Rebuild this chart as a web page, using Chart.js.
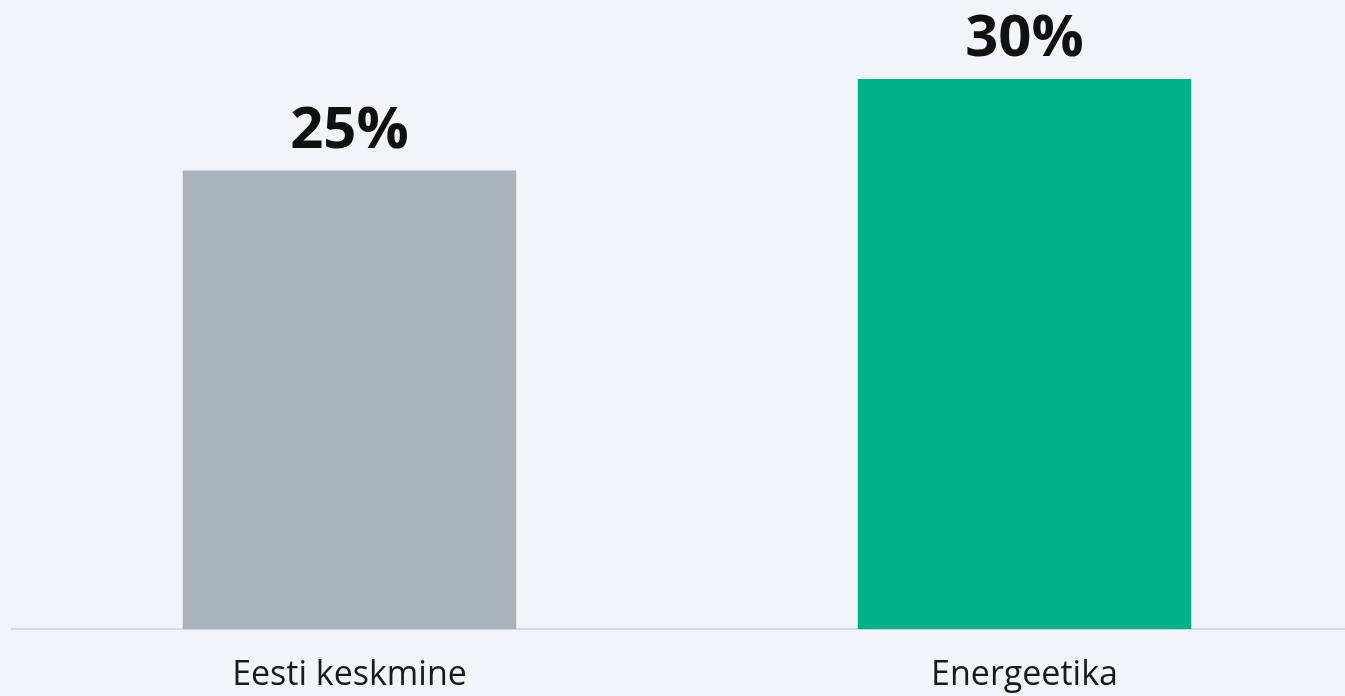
<!DOCTYPE html>
<html lang="et">
<head>
    <meta charset="UTF-8">
    <title>Eesti keskmine vs Energeetika</title>
    <style>
        html, body {
            margin: 0;
            padding: 0;
            background-color: #f1f4f8;
            overflow: hidden;
        }
        .chart-container {
            width: 1362px;
            height: 717px;
        }
    </style>
</head>
<body>
    <div class="chart-container">
        <canvas id="barChart"></canvas>
    </div>

    <script src="https://cdn.jsdelivr.net/npm/chart.js"></script>
    <script>
        // Chart data
        const categories = ['Eesti keskmine', 'Energeetika'];
        const values = [25, 30];
        const valueLabels = ['25%', '30%'];
        const barColors = ['#a9b1bb', '#00b089'];

        // Draw the bold percentage above each bar
        const valueLabelPlugin = {
            id: 'valueLabels',
            afterDatasetsDraw(chart) {
                const ctx = chart.ctx;
                const meta = chart.getDatasetMeta(0);
                ctx.save();
                ctx.font = 'bold 58px "Open Sans", sans-serif';
                ctx.fillStyle = '#111111';
                ctx.textAlign = 'center';
                ctx.textBaseline = 'alphabetic';
                meta.data.forEach((bar, i) => {
                    ctx.fillText(valueLabels[i], bar.x, bar.y - 23);
                });
                ctx.restore();
            }
        };

        const ctx = document.getElementById('barChart').getContext('2d');
        new Chart(ctx, {
            type: 'bar',
            data: {
                labels: categories,
                datasets: [{
                    data: values,
                    backgroundColor: barColors,
                    borderWidth: 0,
                    barPercentage: 0.494,
                    categoryPercentage: 1.0
                }]
            },
            options: {
                responsive: true,
                maintainAspectRatio: false,
                animation: false,
                layout: {
                    padding: { left: 12, right: 0, top: 0, bottom: 3 }
                },
                scales: {
                    x: {
                        grid: { display: false },
                        border: { display: true, color: '#d6dbe1', width: 2 },
                        ticks: {
                            color: '#1a1a1a',
                            font: { family: '"Open Sans", sans-serif', size: 34 },
                            padding: 18
                        }
                    },
                    y: {
                        display: false,
                        min: 0,
                        max: 34.3
                    }
                },
                plugins: {
                    legend: { display: false },
                    tooltip: { enabled: false }
                }
            },
            plugins: [valueLabelPlugin]
        });
    </script>
</body>
</html>
